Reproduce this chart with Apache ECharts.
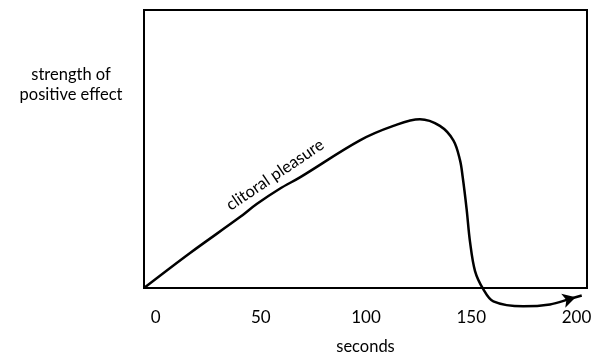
<!DOCTYPE html>
<html>
<head>
<meta charset="utf-8">
<script src="https://cdn.jsdelivr.net/npm/echarts@6/dist/echarts.min.js"></script>
<style>
  html, body { margin: 0; padding: 0; background: #fff; }
  #container { width: 595px; height: 360px; }
</style>
</head>
<body>
<div id="container"></div>
<script>
// values (x in seconds, y in % of the box height)
let secondsX  = [-5.5, 16.4, 40.1, 48.05, 59, 68.6, 97.1, 113, 125.6, 135.1, 141.5, 144.65, 145.9, 147.8, 149.4, 151.8, 155.7, 160.5, 174.7, 187.4, 197, 202.5];
let strengthY = [0, 12.6, 25.5, 30.2, 35.7, 39.8, 53.1, 58.3, 60.7, 58.3, 53.1, 46, 40.1, 28.4, 16.7, 6.1, -0.4, -4.8, -6.6, -5.9, -3.9, -2.7];
let tickValues = [0, 50, 100, 150, 200];
let curveName = 'clitoral pleasure';
let labelIndex = 4; // point the curve label sits on

var dom = document.getElementById('container');
var myChart = echarts.init(dom, null, { renderer: 'canvas' });

var font = 'Lato, "Noto Sans", sans-serif';
var n = secondsX.length;

var points = secondsX.map(function (x, i) {
    var item = { value: [x, strengthY[i]] };
    if (i === labelIndex) {
        item.label = {
            show: true,
            formatter: curveName,
            position: 'top',
            distance: 7,
            rotate: 34,
            fontFamily: font,
            fontSize: 16.5,
            color: '#000'
        };
    }
    if (i === n - 1) {
        // arrow head at the end of the curve
        item.symbol = 'arrow';
        item.symbolSize = [11, 13];
        item.symbolRotate = -74;
        item.symbolOffset = [-6, 1.7];
        item.itemStyle = { color: '#000', borderWidth: 0 };
    }
    return item;
});

var option = {
    animation: false,
    title: {
        text: 'strength of\npositive effect',
        left: 66,
        top: 60,
        textAlign: 'center',
        textStyle: {
            fontFamily: font,
            fontSize: 16.5,
            fontWeight: 'normal',
            color: '#000',
            lineHeight: 20
        }
    },
    grid: {
        left: 144,
        right: 8,
        top: 10,
        bottom: 66,
        show: true,
        borderColor: '#000',
        borderWidth: 2
    },
    xAxis: {
        type: 'value',
        min: -5.5,
        max: 205,
        name: 'seconds',
        nameLocation: 'middle',
        nameGap: 50,
        nameTextStyle: { fontFamily: font, fontSize: 16.5, color: '#000' },
        splitLine: { show: false },
        axisLine: { show: false },
        axisTick: { show: false, customValues: tickValues },
        axisLabel: {
            customValues: tickValues,
            margin: 21,
            fontFamily: font,
            fontSize: 17,
            color: '#000'
        }
    },
    yAxis: {
        type: 'value',
        min: 0,
        max: 100,
        show: false
    },
    series: [
        {
            type: 'line',
            data: points,
            clip: false,
            smooth: 0.35,
            symbol: 'circle',
            symbolSize: 0,
            showSymbol: true,
            itemStyle: { color: '#000' },
            lineStyle: { color: '#000', width: 2.5 }
        }
    ]
};

if (option && typeof option === 'object') {
    myChart.setOption(option);
}

window.addEventListener('resize', myChart.resize);
</script>
</body>
</html>
